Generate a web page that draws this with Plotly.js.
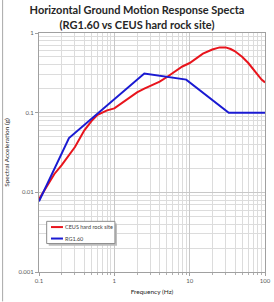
<!DOCTYPE html>
<html>
<head>
<meta charset="utf-8">
<script src="https://cdn.plot.ly/plotly-3.0.1.min.js"></script>
<style>
  html, body { margin: 0; padding: 0; background: #fff; }
  #chart { width: 274px; height: 302px; }
</style>
</head>
<body>
<div id="chart"></div>
<script>
// CEUS hard rock site spectrum
const ceusFreq = [0.1, 0.16, 0.2, 0.25, 0.3, 0.4, 0.5, 0.6, 0.8, 1.0, 1.3, 1.6, 2.0, 2.5, 3.0, 4.0, 5.0, 6.5, 8, 10, 12.5, 15, 20, 25, 30, 35, 40, 50, 60, 70, 80, 90, 100];
const ceusSa   = [0.0082, 0.017, 0.022, 0.029, 0.037, 0.06, 0.079, 0.094, 0.107, 0.113, 0.135, 0.158, 0.18, 0.2, 0.215, 0.245, 0.28, 0.33, 0.38, 0.42, 0.49, 0.55, 0.62, 0.66, 0.66, 0.63, 0.59, 0.5, 0.42, 0.35, 0.29, 0.26, 0.24];

// RG 1.60 design spectrum control points
const rgFreq = [0.1, 0.25, 2.5, 9, 33, 100];
const rgSa   = [0.0077, 0.048, 0.31, 0.26, 0.1, 0.1];

const xTickVals = [0.1, 1, 10, 100];
const xTickText = ['0.1', '1', '10', '100'];
const yTickVals = [0.001, 0.01, 0.1, 1];
const yTickText = ['0.001', '0.01', '0.1', '1'];

const seriesNames = ['CEUS hard rock site', 'RG1.60'];
const seriesColors = ['#e8141c', '#1a1ad2'];

const traces = [
  { x: ceusFreq, y: ceusSa, name: seriesNames[0], mode: 'lines',
    line: { color: seriesColors[0], width: 2 } },
  { x: rgFreq, y: rgSa, name: seriesNames[1], mode: 'lines',
    line: { color: seriesColors[1], width: 2 } }
];

const axisFont = { family: 'Lato, sans-serif', size: 6, color: '#595959' };

// compact legend box drawn in paper coordinates
const legendBox = { x0: 0.034, x1: 0.336, y0: 0.119, y1: 0.212 };
const legendRows = [0.188, 0.14];
const shapes = [
  { type: 'rect', xref: 'paper', yref: 'paper',
    x0: legendBox.x0 + 0.009, x1: legendBox.x1 + 0.009, y0: legendBox.y0 - 0.009, y1: legendBox.y1 - 0.009,
    fillcolor: '#bdbdbd', line: { width: 0 }, layer: 'above' },
  { type: 'rect', xref: 'paper', yref: 'paper',
    x0: legendBox.x0, x1: legendBox.x1, y0: legendBox.y0, y1: legendBox.y1,
    fillcolor: '#fff', line: { color: '#8c8c8c', width: 1 }, layer: 'above' },
  // left frame edge of the chart
  { type: 'line', xref: 'paper', yref: 'paper', x0: -0.161, x1: -0.161, y0: -0.123, y1: 1.138,
    line: { color: '#a8a8a8', width: 1 } }
];
const annotations = [];
seriesNames.forEach((name, i) => {
  shapes.push({ type: 'line', xref: 'paper', yref: 'paper', x0: 0.053, x1: 0.106,
    y0: legendRows[i], y1: legendRows[i], line: { color: seriesColors[i], width: 2 }, layer: 'above' });
  annotations.push({ xref: 'paper', yref: 'paper', x: 0.108, y: legendRows[i],
    xanchor: 'left', yanchor: 'middle', showarrow: false, text: name,
    font: { family: 'Lato, sans-serif', size: 5.5, color: '#404040' } });
});

const layout = {
  width: 274, height: 302,
  margin: { l: 39, r: 8.5, t: 33, b: 29.5 },
  paper_bgcolor: '#fff', plot_bgcolor: '#fff',
  font: { family: 'Lato, sans-serif' },
  title: {
    text: '<b>Horizontal Ground Motion Response Specta<br>(RG1.60 vs CEUS hard rock site)</b>',
    font: { family: 'Lato, sans-serif', size: 11, color: '#262626' },
    x: 0.5, xref: 'container', xanchor: 'center',
    y: 0.952, yref: 'container', yanchor: 'top'
  },
  xaxis: {
    type: 'log', range: [-1, 2],
    tickvals: xTickVals, ticktext: xTickText,
    tickfont: axisFont, ticks: 'outside', ticklen: 3, tickcolor: '#a0a0a0',
    showgrid: true, gridcolor: '#c8c8c8', gridwidth: 1,
    minor: { dtick: 'D1', showgrid: true, gridcolor: '#dcdcdc', ticks: 'outside', ticklen: 2, tickcolor: '#b0b0b0' },
    showline: true, linecolor: '#a0a0a0', mirror: true,
    zeroline: false,
    title: { text: 'Frequency (Hz)', font: { family: 'Lato, sans-serif', size: 6.5, color: '#262626' }, standoff: 6 }
  },
  yaxis: {
    type: 'log', range: [-3, 0],
    tickvals: yTickVals, ticktext: yTickText,
    tickfont: axisFont, ticks: 'outside', ticklen: 3, tickcolor: '#a0a0a0',
    showgrid: true, gridcolor: '#c8c8c8', gridwidth: 1,
    minor: { dtick: 'D1', showgrid: true, gridcolor: '#dcdcdc' },
    showline: true, linecolor: '#a0a0a0', mirror: true,
    zeroline: false,
    title: { text: 'Spectral Acceleration (g)', font: { family: 'Lato, sans-serif', size: 6.5, color: '#262626' }, standoff: 8 }
  },
  showlegend: false,
  shapes: shapes,
  annotations: annotations
};

Plotly.newPlot('chart', traces, layout, { displayModeBar: false, staticPlot: true });
</script>
</body>
</html>
